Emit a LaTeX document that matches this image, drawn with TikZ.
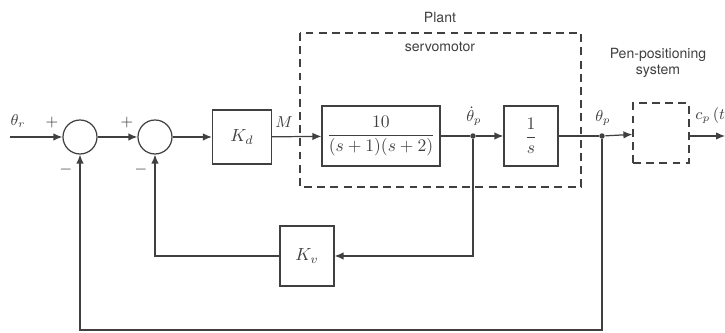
\documentclass[tikz,border=0pt]{standalone}
\usepackage{fontspec}
\setmainfont{TeX Gyre Heros}
\usetikzlibrary{calc,arrows.meta}
\begin{document}
\begin{tikzpicture}[x=0.02cm,y=-0.02cm,line width=.7pt,color=black!75,font=\small,
  sum/.style={circle,draw,minimum size=0.68cm,inner sep=0pt},
  block/.style={rectangle,draw,minimum width=#1,minimum height=1.2cm,inner sep=0pt,font=\normalsize},
  block/.default=1.08cm,
  pendash/.style={dash pattern=on 4.5pt off 3pt},
  sig/.style={-{Latex[length=1.8mm,width=1.5mm]}},
  dot/.style={circle,fill,inner sep=1.1pt}]
\useasboundingbox (0,0) rectangle (725,333);

    % blocks
    \node[sum] (s1) at (80,137) {};
    \node[sum] (s2) at (155,137) {};
    \node[block={1.18cm},minimum height=1.08cm] (kd) at (242,137) {$K_d$};
    \node[block={2.36cm}] (g1) at (381,136) {$\displaystyle\frac{10}{(s+1)(s+2)}$};
    \node[block] (integ) at (531,136) {$\displaystyle\frac{1}{s}$};
    \node[block={1.12cm},pendash] (pen) at (661,133) {};
    \node[block] (kv) at (307,256) {$K_v$};
    \draw[pendash] (300,33) rectangle (581,187);

    \coordinate (in) at (10,137);
    \coordinate (out) at (725,136);
    \coordinate (fb) at (80,330);
    \node[dot] (j1) at (473,136) {};
    \node[dot] (j2) at (602,136) {};

    % forward path
\draw[sig] (in)--(s1);
\draw[sig] (s1)--(s2);
\draw[sig] (s2)--(kd);
\draw[sig] (kd)--(g1);
\draw (g1)--(j1);
\draw[sig] (j1)--(integ);
\draw (integ)--(j2);
\draw[sig] (j2)--(pen);
\draw[sig] (pen.east|-out)--(out);

    % feedback paths
\draw[sig] (j1)|-(kv);
\draw[sig] (kv)-|(s2);
\draw[sig] (j2)|-(fb)--(s1);

    % labels
    \node (thr) at (18,121) {$\theta_r$};
    \node (p1) at (52,123) {$+$};
    \node (m1) at (66,170) {$-$};
    \node (p2) at (127,123) {$+$};
    \node (m2) at (141,170) {$-$};
    \node (lm) at (284,122) {$M$};
    \node[anchor=south,inner sep=1pt] (thd) at (474,128) {$\dot\theta_p$};
    \node[anchor=south,inner sep=1pt] (thp) at (603,128) {$\theta_p$};
    \node[font=\footnotesize] (plant) at (440,17) {Plant};
    \node[font=\footnotesize] (servo) at (440,47) {servomotor};
    \node[font=\footnotesize,align=center] (pps) at (658,63) {Pen-positioning\\system};
    \node[anchor=west] (cp) at (689,116) {$c_p\,(t)$};

\end{tikzpicture}
\end{document}
